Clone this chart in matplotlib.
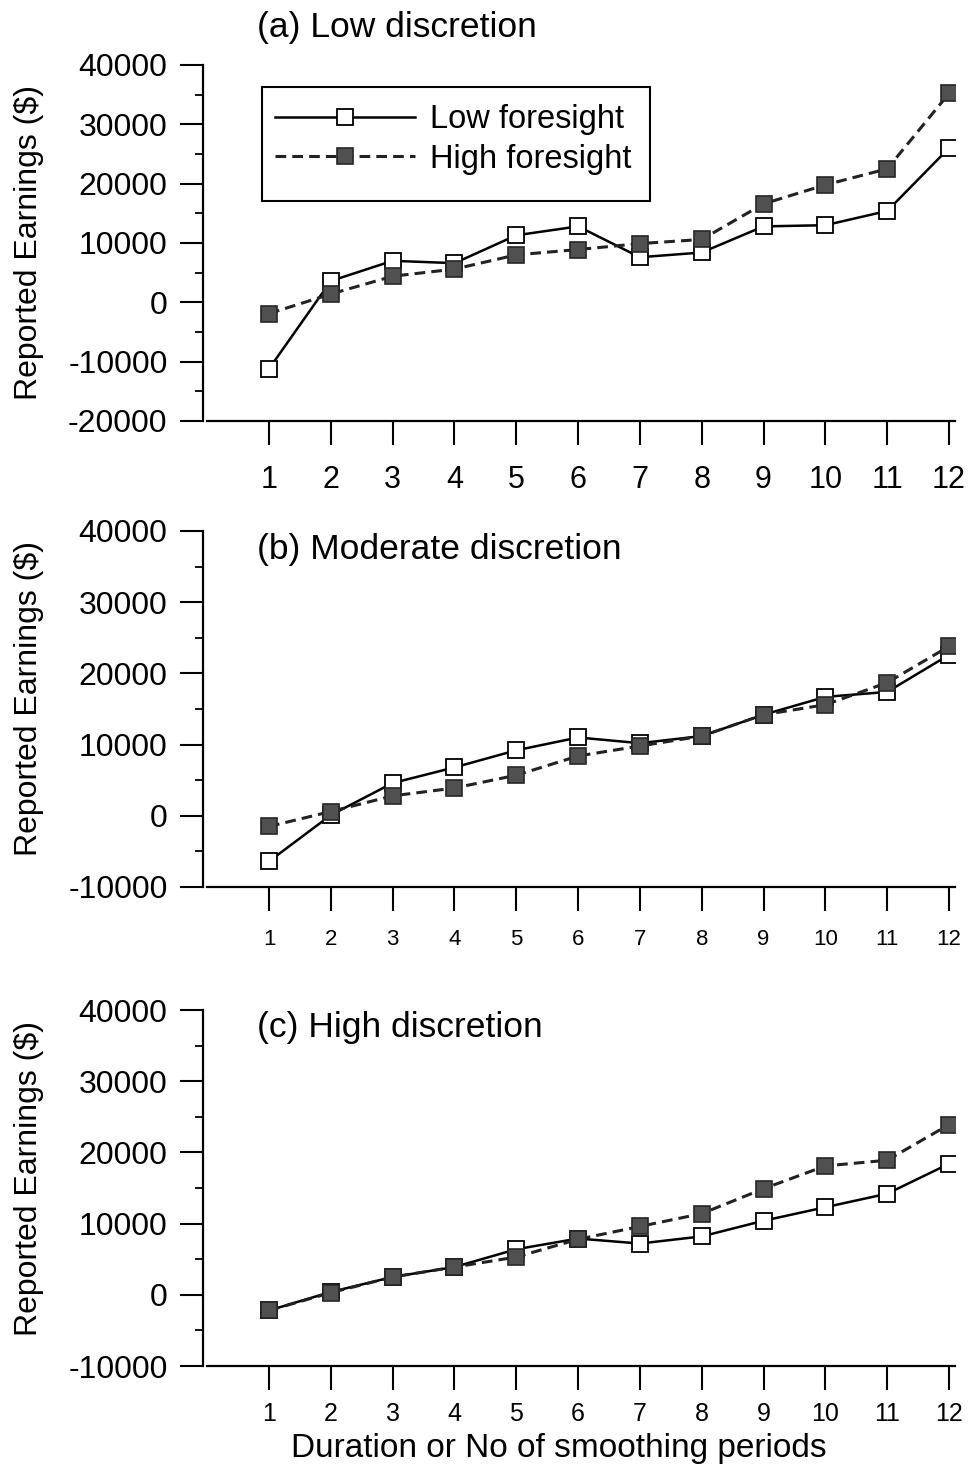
import numpy as np
import matplotlib
matplotlib.use('Agg')
import matplotlib.pyplot as plt
from matplotlib.ticker import MultipleLocator
from matplotlib.patches import Rectangle

plt.rcParams['font.family'] = ['Liberation Sans', 'DejaVu Sans']
plt.rcParams['axes.unicode_minus'] = False

periods = np.arange(1, 13)

# (a) Low discretion
low_a = [-11200, 3600, 7000, 6600, 11300, 12800, 7600, 8400, 12800, 13000, 15400, 26000]
high_a = [-1900, 1400, 4400, 5600, 8000, 8900, 9900, 10600, 16600, 19800, 22500, 35200]
# (b) Moderate discretion
low_b = [-6400, 100, 4600, 6800, 9200, 11000, 10200, 11200, 14200, 16700, 17400, 22600]
high_b = [-1500, 600, 2800, 3900, 5700, 8400, 9800, 11200, 14200, 15600, 18700, 23800]
# (c) High discretion
low_c = [-2200, 400, 2500, 3900, 6400, 7900, 7200, 8200, 10400, 12300, 14200, 18400]
high_c = [-2200, 300, 2500, 3900, 5300, 7800, 9600, 11400, 14900, 18100, 18900, 23900]

titles = ['(a) Low discretion', '(b) Moderate discretion', '(c) High discretion']
series_low = [low_a, low_b, low_c]
series_high = [high_a, high_b, high_c]
ylims = [(-20000, 40000), (-10000, 40000), (-10000, 40000)]

fig = plt.figure(figsize=(9.72, 14.68), dpi=100)
W, H = 972.0, 1468.0
left = 203 / W
width = (955 - 203) / W
tops = [65, 531, 1010]
bottoms = [421, 887, 1366]
xt_size = [22, 16, 18]
xt_pad = [15, 13, 9]
ylab_y = [243, 698, 1178]
title_y = [27, 550, 1028]

for i in range(3):
    ax = fig.add_axes([left, 1 - bottoms[i] / H, width, (bottoms[i] - tops[i]) / H])
    ax.plot(periods, series_low[i], '-', color='black', lw=1.8,
            marker='s', ms=11, mfc='white', mec='black', mew=1.3,
            label='Low foresight', zorder=3)
    ax.plot(periods, series_high[i], '--', color='#222222', lw=2.2, dashes=(3.5, 2),
            marker='s', ms=11, mfc='#505050', mec='#262626', mew=1.2,
            label='High foresight', zorder=4)

    ax.set_xlim(-0.068, 12.097)
    ax.set_ylim(*ylims[i])
    ax.spines['top'].set_visible(False)
    ax.spines['right'].set_visible(False)
    ax.spines['left'].set_linewidth(1.6)
    ax.spines['bottom'].set_linewidth(1.6)
    ax.spines['bottom'].set_bounds(0.0, 12.097)

    ax.set_xticks(periods)
    ax.yaxis.set_major_locator(MultipleLocator(10000))
    ax.yaxis.set_minor_locator(MultipleLocator(5000))
    ax.tick_params(axis='y', which='major', direction='out', length=16.5, width=1.5,
                   labelsize=23, pad=9)
    ax.tick_params(axis='y', which='minor', direction='out', length=5.5, width=1.3)
    ax.tick_params(axis='x', direction='out', length=17, width=1.5,
                   labelsize=xt_size[i], pad=xt_pad[i])

    fig.text(29 / W, 1 - ylab_y[i] / H, 'Reported Earnings ($)', rotation=90,
             ha='center', va='center', fontsize=23)
    fig.text(257 / W, 1 - title_y[i] / H, titles[i], ha='left', va='center', fontsize=25.5)

    if i == 0:
        ax.add_patch(Rectangle((0.0785, 0.618), 0.5159, 0.320, transform=ax.transAxes,
                               fill=True, facecolor='white', edgecolor='black',
                               lw=1.5, zorder=5))
        leg = ax.legend(loc='upper left', bbox_to_anchor=(0.0957, 0.89), borderaxespad=0,
                        fontsize=23.5, numpoints=1, handlelength=4.3, handletextpad=0.45,
                        labelspacing=0.26, borderpad=0, frameon=False)
        leg.set_zorder(6)

fig.text(559 / W, 1 - 1449 / H, 'Duration or No of smoothing periods',
         ha='center', va='center', fontsize=24)

fig.savefig('out.png', dpi=100)
